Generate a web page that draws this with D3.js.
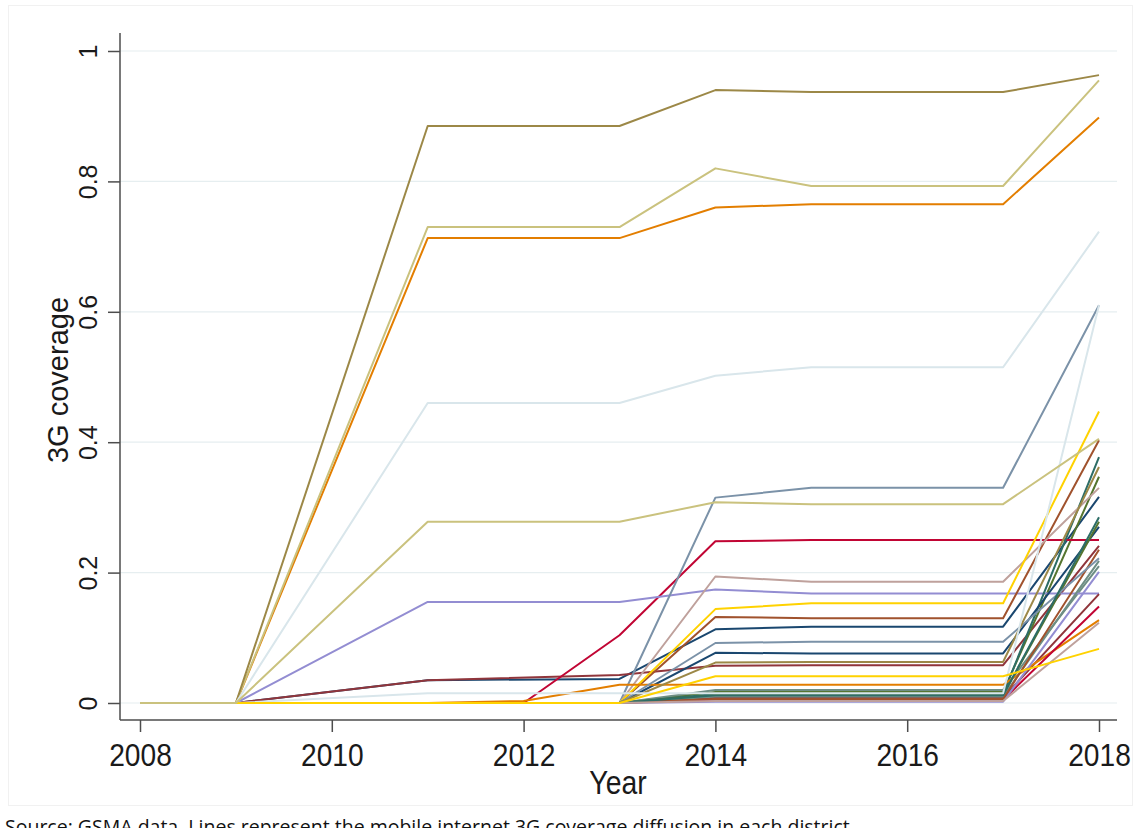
<!DOCTYPE html>
<html>
<head>
<meta charset="utf-8">
<script src="https://cdn.jsdelivr.net/npm/d3@7"></script>
<style>
  html, body { margin: 0; padding: 0; background: #ffffff; }
  svg { display: block; }
</style>
</head>
<body>
<svg id="chart" width="1134" height="828"></svg>
<script>
// ---- data ----
const years = [2008, 2009, 2010, 2011, 2012, 2013, 2014, 2015, 2016, 2017, 2018];
const yTicks = [0, 0.2, 0.4, 0.6, 0.8, 1];
const yTickLabels = ["0", "0.2", "0.4", "0.6", "0.8", "1"];
const xTicks = [2008, 2010, 2012, 2014, 2016, 2018];
const xTickLabels = ["2008", "2010", "2012", "2014", "2016", "2018"];
// one array per district, null = year not observed
const district01 = [0, 0, null, 0.035, null, 0.037, 0.113, 0.117, null, 0.117, 0.316];
const district02 = [0, 0, null, 0.035, null, 0.043, 0.057, 0.058, null, 0.058, 0.241];
const district03 = [0, 0, null, 0, null, 0, 0.017, 0.017, null, 0.017, 0.347];
const district04 = [0, 0, null, 0.713, null, 0.713, 0.760, 0.765, null, 0.765, 0.898];
const district05 = [0, 0, null, 0, null, 0, 0.020, 0.020, null, 0.020, 0.210];
const district06 = [0, 0, null, 0, 0, 0.104, 0.248, 0.250, null, 0.250, 0.250];
const district07 = [0, 0, null, 0.155, null, 0.155, 0.174, 0.168, null, 0.168, 0.168];
const district08 = [0, 0, null, 0.730, null, 0.730, 0.820, 0.793, null, 0.793, 0.955];
const district09 = [0, 0, null, 0, null, 0, 0.132, 0.130, null, 0.130, 0.403];
const district10 = [0, 0, null, 0, null, 0, 0.315, 0.330, null, 0.330, 0.610];
const district11 = [0, 0, null, 0, null, 0, 0.014, 0.014, null, 0.014, 0.377];
const district12 = [0, 0, null, 0.885, null, 0.885, 0.940, 0.937, null, 0.937, 0.963];
const district13 = [0, 0, null, 0, null, 0, 0.194, 0.186, null, 0.186, 0.330];
const district14 = [0, 0, null, 0, null, 0, 0.144, 0.153, null, 0.153, 0.447];
const district15 = [0, 0, null, 0.460, null, 0.460, 0.502, 0.515, null, 0.515, 0.723];
const district16 = [0, 0, null, 0, null, 0, 0.077, 0.076, null, 0.076, 0.270];
const district17 = [0, 0, null, 0, null, 0, 0.008, 0.008, null, 0.008, 0.167];
const district18 = [0, 0, null, 0, null, 0, 0.012, 0.012, null, 0.012, 0.278];
const district19 = [0, 0, null, 0, 0.003, 0.028, 0.028, 0.028, null, 0.028, 0.127];
const district20 = [0, 0, null, 0, null, 0, 0.010, 0.010, null, 0.010, 0.218];
const district21 = [0, 0, null, 0, null, 0, 0.005, 0.005, null, 0.005, 0.148];
const district22 = [0, 0, null, 0, null, 0, 0.002, 0.002, null, 0.002, 0.201];
const district24 = [0, 0, null, 0, null, 0, 0.006, 0.006, null, 0.006, 0.235];
const district25 = [0, 0, null, 0, null, 0, 0.092, 0.094, null, 0.094, 0.222];
const district26 = [0, 0, null, 0, null, 0, 0.012, 0.012, null, 0.012, 0.285];
const district27 = [0, 0, null, 0, null, 0, 0.062, 0.063, null, 0.063, 0.362];
const district28 = [0, 0, null, 0, null, 0, 0.003, 0.003, null, 0.003, 0.123];
const district30 = [0, 0, null, 0.015, null, 0.015, 0.015, 0.015, null, 0.015, 0.610];
const district29 = [0, 0, null, 0, null, 0, 0.041, 0.041, null, 0.041, 0.083];
const district23 = [0, 0, null, 0.278, null, 0.278, 0.308, 0.305, null, 0.305, 0.405];
const districts = [district01, district02, district03, district04, district05, district06, district07, district08,
  district09, district10, district11, district12, district13, district14, district15, district16, district17,
  district18, district19, district20, district21, district22, district24, district25, district26,
  district27, district28, district30, district29, district23];
const districtColors = ["#1a476f", "#90353b", "#55752f", "#e37e00", "#6e8e84", "#c10534", "#938dd2", "#cac27e",
  "#a0522d", "#7b92a8", "#2d6d66", "#9c8847", "#bfa19c", "#ffd200", "#d9e6eb",
  "#1a476f", "#90353b", "#55752f", "#e37e00", "#6e8e84", "#c10534", "#938dd2",
  "#a0522d", "#7b92a8", "#2d6d66", "#9c8847", "#bfa19c", "#d9e6eb", "#ffd200", "#cac27e"];

const yTitle = "3G coverage";
const xTitle = "Year";
const caption = "Source: GSMA data. Lines represent the mobile internet 3G coverage diffusion in each district.";

// ---- drawing ----
const svg = d3.select("#chart");
const x = d3.scaleLinear().domain([2008, 2018]).range([140, 1099]);
const y = d3.scaleLinear().domain([0, 1]).range([703, 51]);
const plotLeft = 120, plotRight = 1117, plotTop = 33, plotBottom = 720;
const font = "Liberation Sans, Arial, sans-serif";

// faint outer frame
svg.append("rect").attr("x", 8.5).attr("y", 5.5).attr("width", 1124).attr("height", 800)
  .attr("fill", "none").attr("stroke", "#f1f1f1").attr("stroke-width", 1);

// gridlines
svg.append("g").selectAll("line").data(yTicks).join("line")
  .attr("x1", plotLeft).attr("x2", plotRight)
  .attr("y1", d => y(d)).attr("y2", d => y(d))
  .attr("stroke", "#e6eef0").attr("stroke-width", 1.2);

// lines
const line = d3.line().x(d => x(d.year)).y(d => y(d.v));
svg.append("g").selectAll("path").data(districts).join("path")
  .attr("d", s => line(years.map((yr, i) => ({year: yr, v: s[i]})).filter(p => p.v !== null)))
  .attr("fill", "none")
  .attr("stroke", (s, i) => districtColors[i])
  .attr("stroke-width", 2)
  .attr("stroke-linejoin", "round");

// y axis
const yAxis = d3.axisLeft(y).tickValues(yTicks).tickFormat((d, i) => yTickLabels[i]).tickSize(12).tickPadding(10);
const gy = svg.append("g").attr("transform", `translate(${plotLeft},0)`).call(yAxis);
gy.select(".domain").attr("d", `M0,${plotTop}V${plotBottom}`).attr("stroke", "#4d4d4d").attr("stroke-width", 1.5);
gy.selectAll(".tick line").attr("stroke", "#4d4d4d").attr("stroke-width", 1.5);
gy.selectAll(".tick text")
  .attr("font-family", font).attr("font-size", 25).attr("fill", "#1a1a1a")
  .attr("text-anchor", "middle").attr("x", null).attr("dy", null)
  .attr("transform", "translate(-23,0) rotate(-90)")
  .attr("y", 0);

// x axis
const xAxis = d3.axisBottom(x).tickValues(xTicks).tickFormat((d, i) => xTickLabels[i]).tickSize(12).tickPadding(10);
const gx = svg.append("g").attr("transform", `translate(0,${plotBottom})`).call(xAxis);
gx.select(".domain").attr("d", `M${plotLeft},0H${plotRight}`).attr("stroke", "#4d4d4d").attr("stroke-width", 1.5);
gx.selectAll(".tick line").attr("stroke", "#4d4d4d").attr("stroke-width", 1.5);
gx.selectAll(".tick text")
  .attr("font-family", font).attr("font-size", 32).attr("fill", "#1a1a1a")
  .attr("dy", null).attr("y", 0)
  .attr("transform", "translate(0,46) scale(0.88,1)");

// titles
svg.append("text").attr("x", 0).attr("y", 0)
  .attr("transform", "translate(68,380) rotate(-90)")
  .attr("text-anchor", "middle").attr("font-family", font)
  .attr("font-size", 29).attr("fill", "#1a1a1a").text(yTitle);
svg.append("text").attr("x", 0).attr("y", 0)
  .attr("transform", "translate(618,794) scale(0.86,1)")
  .attr("text-anchor", "middle").attr("font-family", font)
  .attr("font-size", 33).attr("fill", "#1a1a1a").text(xTitle);

// caption
svg.append("text").attr("x", 5).attr("y", 834)
  .attr("font-family", "Open Sans, Noto Sans, sans-serif").attr("font-size", 19.5).attr("fill", "#111")
  .text(caption);
</script>
</body>
</html>
